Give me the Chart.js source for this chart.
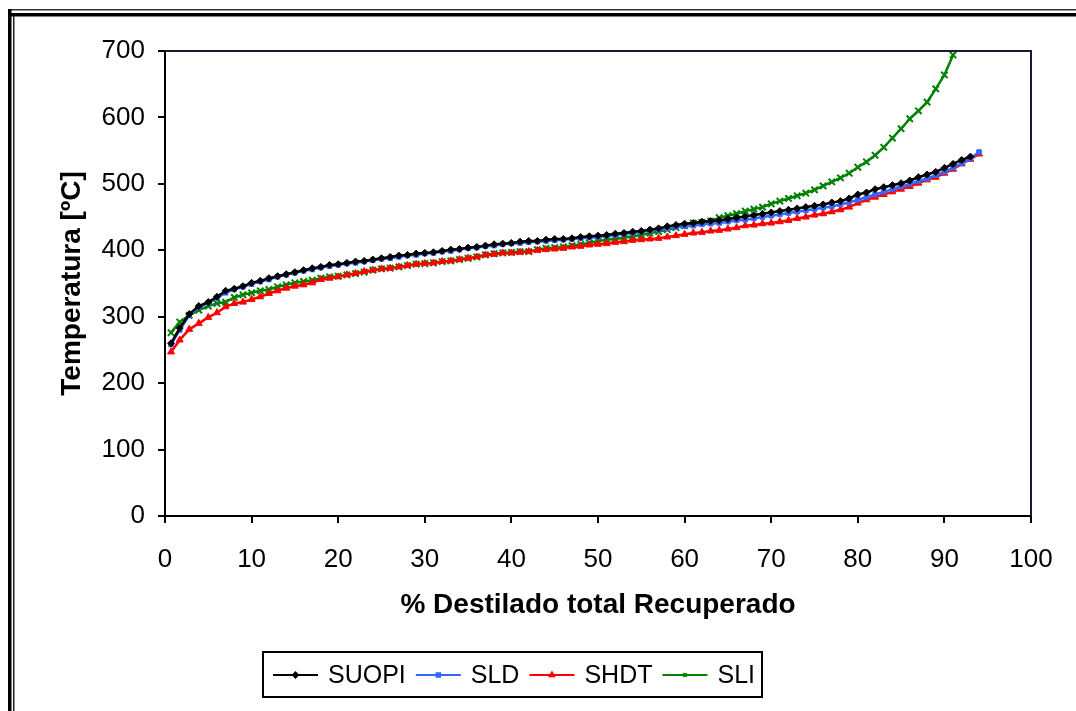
<!DOCTYPE html>
<html>
<head>
<meta charset="utf-8">
<script src="https://cdn.jsdelivr.net/npm/chart.js@4/dist/chart.umd.min.js"></script>
<style>
html,body{margin:0;padding:0;background:#fff;}
#wrap{position:relative;width:1076px;height:711px;overflow:hidden;}
canvas{display:block;}
</style>
</head>
<body>
<div id="wrap"><canvas id="c" width="1076" height="711"></canvas></div>
<script>
// % distilled (x) sampling points
const xValues = [0.7,1.7,2.8,3.9,5,6,7,8,9,10,11,12,13,14,15,16,17,18,19,20,21,22,23,24,25,26,27,28,29,30,31,32,33,34,35,36,37,38,39,40,41,42,43,44,45,46,47,48,49,50,51,52,53,54,55,56,57,58,59,60,61,62,63,64,65,66,67,68,69,70,71,72,73,74,75,76,77,78,79,80,81,82,83,84,85,86,87,88,89,90,91,92,93,94];

const seriesNames = ["SUOPI","SLD","SHDT","SLI"];

const suopi = [260,283,304,316,322,330,339,342,346,351,354,358,361,364,367,370,373,375,378,379,381,383,384,386,388,390,392,393,395,396,397,399,401,402,404,405,407,409,410,411,413,414,414,416,417,417,418,420,421,422,423,425,426,428,429,431,433,436,438,440,441,443,444,445,447,449,451,453,455,457,459,461,463,465,467,469,472,474,478,484,487,492,495,498,501,505,510,514,518,524,530,536,541];

const sld = [258,280,302,314,321,328,336,341,345,349,353,356,360,363,366,369,371,374,376,378,380,381,383,385,387,388,390,392,393,395,396,398,399,401,403,404,406,407,409,410,411,412,413,414,415,416,417,418,419,420,422,423,425,426,428,430,431,433,435,436,437,439,440,441,443,445,446,448,450,452,454,456,458,460,462,464,466,469,472,476,480,484,488,492,496,500,504,508,513,518,524,531,538,548];

const shdt = [247,265,281,290,299,306,315,320,322,326,330,335,339,343,346,348,351,356,358,360,363,365,368,370,372,373,375,377,379,380,381,383,384,386,388,390,393,394,396,396,397,398,400,401,402,403,405,406,408,409,410,412,413,415,416,417,418,420,422,424,426,427,429,430,432,434,437,438,440,441,443,445,448,450,453,455,458,461,465,471,476,480,484,488,492,496,501,506,510,516,522,530,537,545];

const sli = [276,292,302,310,316,320,322,329,333,336,339,341,345,348,351,353,355,358,360,361,363,365,367,370,372,373,375,377,379,380,381,383,384,386,388,390,393,395,396,397,398,398,401,403,404,405,407,409,411,414,416,417,419,421,423,426,428,431,434,437,441,442,444,449,452,455,459,462,465,470,474,478,482,486,491,497,503,509,516,525,533,543,555,569,583,598,610,623,643,664,694];

const xTicks = [0,10,20,30,40,50,60,70,80,90,100];
const yTicks = [0,100,200,300,400,500,600,700];

const colors = ["#000000","#3366ff","#ff0000","#008000"];
const markers = ["rectRot","rect","triangle","crossRot"];
const markerRadius = [3.5,3.2,4,4.5];

function pts(vals){ return vals.map((v,i)=>({x:xValues[i], y:v})); }

const FONT = "'Liberation Sans', Arial, sans-serif";

const frame = {
  id:'frame',
  beforeDraw(chart){
    const ctx = chart.ctx;
    ctx.save();
    ctx.fillStyle = '#fff';
    ctx.fillRect(0,0,chart.width,chart.height);
    ctx.fillStyle = '#333';
    ctx.fillRect(8,9,chart.width,1.5);
    ctx.fillStyle = '#000';
    ctx.fillRect(11,13,chart.width,3.5);
    ctx.fillRect(8,9,3.5,chart.height);
    ctx.fillStyle = '#222';
    ctx.fillRect(13,16,1.5,chart.height);
    ctx.restore();
  },
  afterDatasetsDraw(chart){
    const {left,right,top,bottom} = chart.chartArea;
    const ctx = chart.ctx;
    ctx.save();
    ctx.strokeStyle = '#1a1a33';
    ctx.lineWidth = 2;
    ctx.beginPath();
    ctx.moveTo(left, top);
    ctx.lineTo(right, top);
    ctx.lineTo(right, bottom);
    ctx.stroke();
    ctx.restore();
  },
  afterDraw(chart){
    const ctx = chart.ctx;
    ctx.save();
    ctx.strokeStyle = '#000';
    ctx.lineWidth = 2;
    ctx.strokeRect(263,652,499,45);
    ctx.font = '25px ' + FONT;
    ctx.textBaseline = 'middle';
    ctx.fillStyle = '#000';
    let x = 273;
    const cy = 675;
    chart.data.datasets.forEach((ds)=>{
      ctx.strokeStyle = ds.borderColor;
      ctx.lineWidth = 2;
      ctx.beginPath();
      ctx.moveTo(x, cy); ctx.lineTo(x+45, cy); ctx.stroke();
      ctx.fillStyle = ds.borderColor;
      Chart.helpers.drawPoint(ctx, {pointStyle: ds.pointStyle, radius: 2.5, borderWidth: 2}, x+22.5, cy);
      ctx.fillStyle = '#000';
      ctx.fillText(ds.label, x+55, cy+1);
      x += 55 + ctx.measureText(ds.label).width + 10;
    });
    ctx.restore();
  }
};

const datasets = [suopi, sld, shdt, sli].map((vals,i)=>({
  label: seriesNames[i],
  data: pts(vals),
  borderColor: colors[i],
  backgroundColor: colors[i],
  pointBorderColor: colors[i],
  pointBackgroundColor: colors[i],
  borderWidth: 2.5,
  pointStyle: markers[i],
  pointRadius: markerRadius[i],
  pointBorderWidth: i===3 ? 2 : 1,
  tension: 0,
  clip: false
}));

new Chart(document.getElementById('c'), {
  type: 'line',
  data: { datasets },
  plugins: [frame],
  options: {
    responsive: false,
    animation: false,
    devicePixelRatio: 1,
    layout: { padding: { top: 51, right: 45, bottom: 0, left: 0 } },
    plugins: { legend: { display: false }, tooltip: { enabled: false } },
    scales: {
      x: {
        type: 'linear', min: 0, max: 100,
        afterBuildTicks(s){ s.ticks = xTicks.map(v=>({value:v})); },
        afterFit(s){ s.height = 195; },
        ticks: { color:'#000', font:{ family: FONT, size: 26 }, padding: 21, maxRotation:0, autoSkip:false },
        grid: { drawOnChartArea:false, drawTicks:true, tickLength:7, color:'#000', lineWidth:2 },
        border: { display:true, color:'#000', width:2 },
        title: { display:true, text:'% Destilado total Recuperado', color:'#000', font:{ family: FONT, size: 28, weight:'bold' }, padding:{ bottom: 89 } }
      },
      y: {
        type: 'linear', min: 0, max: 700,
        afterBuildTicks(s){ s.ticks = yTicks.map(v=>({value:v})); },
        afterFit(s){ s.width = 165; },
        ticks: { color:'#000', font:{ family: FONT, size: 26 }, padding: 13, autoSkip:false },
        grid: { drawOnChartArea:false, drawTicks:true, tickLength:7, color:'#000', lineWidth:2 },
        border: { display:true, color:'#000', width:2 },
        title: { display:true, text:'Temperatura [ºC]', color:'#000', font:{ family: FONT, size: 28, weight:'bold' }, padding:{ top: 55 } }
      }
    }
  }
});
</script>
</body>
</html>
